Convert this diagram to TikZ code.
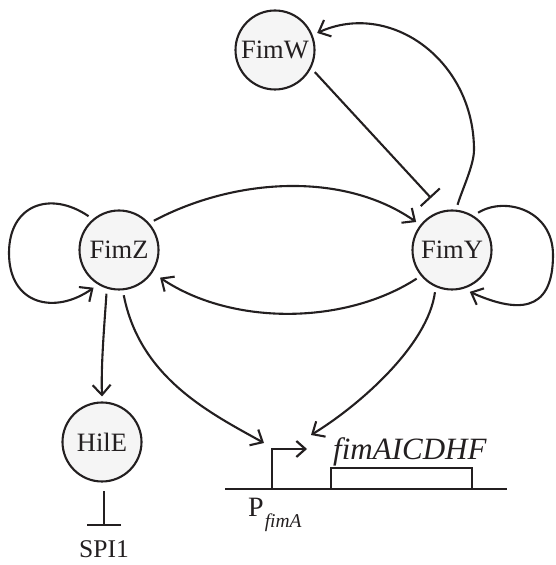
\documentclass[tikz,border=0pt]{standalone}
\usepackage{fontspec}
\setmainfont{Liberation Serif}
\usetikzlibrary{arrows.meta,calc}
\definecolor{ink}{RGB}{35,31,32}
\definecolor{cfill}{RGB}{245,245,245}
\tikzset{
  gene/.style={circle, draw=ink, fill=cfill, line width=2.1pt, minimum size=79pt,
    inner sep=0pt, outer sep=6pt, text=ink, font=\fontsize{26.5}{28}\selectfont},
  act/.style={draw=ink, line width=2.1pt, -{Straight Barb[length=10pt,width=18pt]}},
  inh/.style={draw=ink, line width=2.1pt},
  lbl/.style={text=ink, inner sep=0pt}
}
\begin{document}
\begin{tikzpicture}[x=1pt,y=1pt]
\useasboundingbox (0,0) rectangle (555,565);
% nodes
\node[gene] (FimW) at (275,515) {FimW};
\node[gene] (FimZ) at (119,315) {FimZ};
\node[gene] (FimY) at (452,315) {FimY};
\node[gene] (HilE) at (102,123) {HilE};
\node[lbl, anchor=base, font=\fontsize{25.5}{27}\selectfont] (SPI1) at (104,7) {SPI1};
% free ends
\coordinate (tW) at (431,367);
\coordinate (sB) at (104,39);
\coordinate (pZ) at (264,122);
\coordinate (pY) at (311,130);
% self loops
\draw[act] (FimZ.132) .. controls (50,375) and (9,360) .. (9,312)
  .. controls (9,260) and (55,250) .. (FimZ.236);
\draw[act] (FimY.55) .. controls (505,369) and (553,355) .. (553,310)
  .. controls (553,250) and (515,253) .. (FimY.-67);
% FimZ <-> FimY
\draw[act] (FimZ.40) .. controls (234.5,387) and (343,394) .. (FimY.142);
\draw[act, shorten >=4pt] (FimY.219) .. controls (345,240) and (232,239) .. (FimZ.-34);
% FimY -> FimW
\draw[act] (FimY.83) .. controls (462,375) and (474,400) .. (474,415)
  .. controls (474,505) and (390,565) .. (FimW.22);
% FimW -| FimY
\draw[inh, -{Bar[width=26pt]}] (FimW.-29) -- (tW);
% FimZ -> HilE
\draw[act] (FimZ.254) .. controls (104,235) and (101,200) .. (HilE.north);
% HilE -| SPI1
\draw[inh, -{Bar[width=34pt]}, shorten <=4pt] (HilE.south -| sB) -- (sB);
% to promoter
\draw[act] (FimZ.276) .. controls (140,187) and (210,152) .. (pZ);
\draw[act] (FimY.248) .. controls (428,220) and (360,160) .. (pY);
% gene locus
\draw[ink, line width=2.9pt] (225,76) -- (507,76);
\draw[ink, line width=2.1pt] (331,76) -- (331,97) -- (472,97) -- (472,76);
\draw[ink, line width=2.2pt, -{Straight Barb[length=9pt,width=16pt]}] (272,76) -- (272,116) -- (307,116);
\node[lbl, anchor=base west, font=\fontsize{31}{32}\selectfont\itshape] (fim) at (333,105) {fimAICDHF};
\node[lbl, anchor=base west, font=\fontsize{28}{30}\selectfont] (P) at (248,48) {P\kern1pt\raisebox{-11pt}{\fontsize{19.5}{20}\selectfont\itshape fimA}};
\end{tikzpicture}
\end{document}
